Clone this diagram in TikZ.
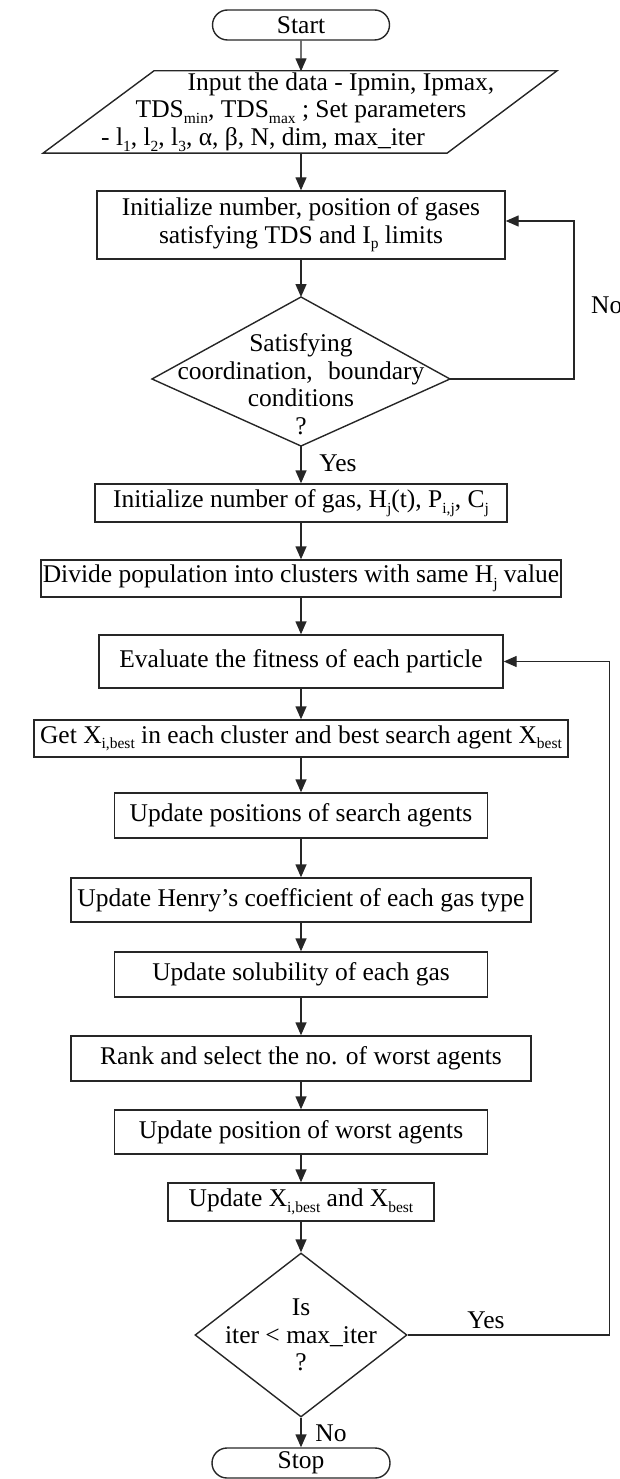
\documentclass[tikz,border=0pt]{standalone}
\usepackage{fontspec}
\setmainfont{Liberation Serif}
\usetikzlibrary{arrows.meta,shapes.misc,shapes.geometric}
\newcommand\fs{\fontsize{25.5}{27.5}\selectfont}
\newcommand\ssub[1]{\raisebox{-0.22em}{\fontsize{15.5}{15.5}\selectfont #1}}
\begin{document}
\begin{tikzpicture}[x=1pt,y=-1pt,
  line/.style={draw=black!85, line width=1.4pt},
  box/.style={line, rectangle, inner sep=0pt, align=center, font=\fs},
  term/.style={line, rounded rectangle, inner sep=0pt, align=center, font=\fs},
  txt/.style={inner sep=0pt, align=center, font=\fs},
  arr/.style={line, -{Triangle[length=13pt,width=11pt]}},
]
\useasboundingbox (0,0) rectangle (620,1479);

\node[term, minimum width=177, minimum height=30] (start) at (301,25) {Start};

\node[txt, minimum width=404, minimum height=81] (inp) at (301,112) {\hspace*{80pt}Input the data - Ipmin, Ipmax,\\TDS\ssub{min}, TDS\ssub{max} ; Set parameters\hspace*{16pt}\\- l\ssub{1}, l\ssub{2}, l\ssub{3}, α, β, N, dim, max\_iter\hspace*{76pt}};
\draw[line] ([xshift=-147pt,yshift=0.5pt]inp.north) -- ([xshift=256pt,yshift=0.5pt]inp.north) -- ([xshift=146pt,yshift=-0.5pt]inp.south) -- ([xshift=-258pt,yshift=-0.5pt]inp.south) -- cycle;

\node[box, minimum width=408, minimum height=68] (b1) at (301,225) {Initialize number, position of gases\\satisfying TDS and I\ssub{p} limits};

\coordinate (d1n) at (301,297);
\coordinate (d1e) at (450,379);
\coordinate (d1s) at (301,446);
\coordinate (d1w) at (152,379);
\draw[line] (d1n) -- (d1e) -- (d1s) -- (d1w) -- cycle;
\node[txt] (d1t) at (301,384) {Satisfying\\coordination,\hspace{0.6em}boundary\\conditions\\?};

\node[box, minimum width=412, minimum height=38] (b2) at (301,503) {Initialize number of gas, H\ssub{j}(t), P\ssub{i,j}, C\ssub{j}};
\node[box, minimum width=520, minimum height=37] (b3) at (301,578.5) {Divide population into clusters with same H\ssub{j} value};
\node[box, minimum width=404, minimum height=53] (b4) at (301,661.5) {Evaluate the fitness of each particle};
\node[box, minimum width=534, minimum height=37] (b5) at (301,738.5) {Get X\ssub{i,best} in each cluster and best search agent X\ssub{best}};
\node[box, minimum width=373, minimum height=45] (b6) at (301,815.5) {Update positions of search agents};
\node[box, minimum width=460, minimum height=44] (b7) at (301,900) {Update Henry's coefficient of each gas type};
\node[box, minimum width=373, minimum height=45] (b8) at (301,974.5) {Update solubility of each gas};
\node[box, minimum width=460, minimum height=45] (b9) at (301,1058.5) {Rank and select the no. of worst agents};
\node[box, minimum width=373, minimum height=44] (b10) at (301,1132) {Update position of worst agents};
\node[box, minimum width=266, minimum height=38] (b11) at (301,1202) {Update X\ssub{i,best} and X\ssub{best}};

\node[line, diamond, inner sep=0pt, minimum width=212, minimum height=164] (d2) at (301,1335) {};
\node[txt] (d2t) at (301,1335) {Is\\iter < max\_iter\\?};

\node[term, minimum width=178, minimum height=30] (stop) at (301,1463) {Stop};

\draw[arr] (start) -- (inp.north);
\draw[arr] (inp.south) -- (b1);
\draw[arr] (b1) -- (d1n);
\draw[arr] (d1s) -- (b2);
\draw[arr] (b2) -- (b3);
\draw[arr] (b3) -- (b4);
\draw[arr] (b4) -- (b5);
\draw[arr] (b5) -- (b6);
\draw[arr] (b6) -- (b7);
\draw[arr] (b7) -- (b8);
\draw[arr] (b8) -- (b9);
\draw[arr] (b9) -- (b10);
\draw[arr] (b10) -- (b11);
\draw[arr] (b11) -- (d2);
\draw[arr] (d2) -- (stop);
\draw[arr] (d1e) -- ++(124,0) |- ([yshift=4pt]b1.east);
\draw[arr] (d2.east) -- ++(202,0) |- (b4.east);

\node[txt, anchor=west] (no1) at (591,305) {No};
\node[txt] (yes1) at (338,463) {Yes};
\node[txt] (yes2) at (486,1320) {Yes};
\node[txt] (no2) at (331,1433) {No};
\end{tikzpicture}
\end{document}
